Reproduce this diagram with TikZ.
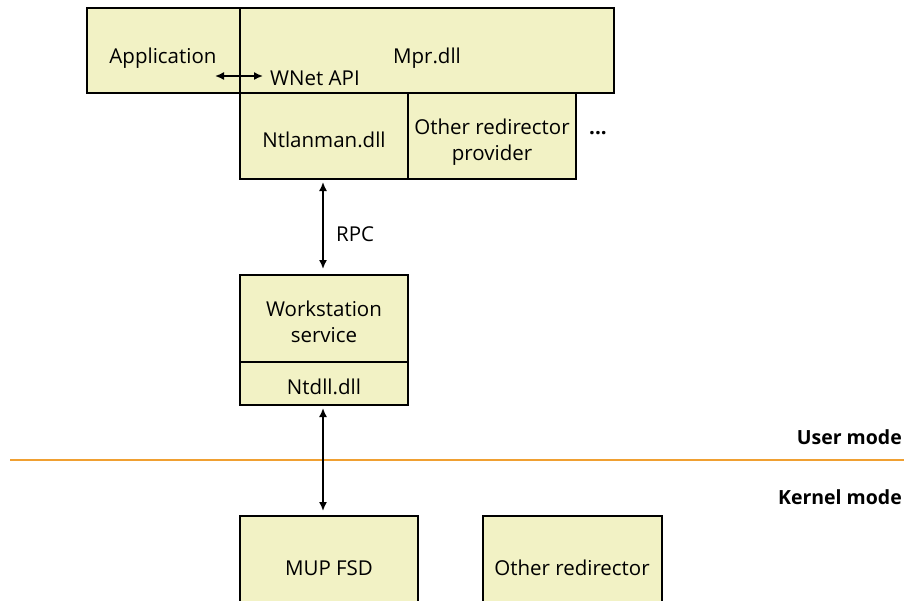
\documentclass[tikz,border=0pt]{standalone}
\usepackage{fontspec}
\setmainfont{Open Sans}
\usetikzlibrary{arrows.meta}
\definecolor{boxfill}{RGB}{242,242,197}
\definecolor{modeline}{RGB}{240,160,50}
\begin{document}
\begin{tikzpicture}[x=1pt,y=-1pt,
  blk/.style={draw=black,line width=1.8pt,fill=boxfill},
  lbl/.style={font=\fontsize{20.5}{26}\selectfont,align=center,inner sep=0pt},
  bar/.style={line width=1.6pt,{Latex[length=9pt,width=8pt]}-{Latex[length=9pt,width=8pt]}},
  modelbl/.style={anchor=east,inner sep=0pt,font=\fontsize{19.5}{24}\selectfont\bfseries}]
\useasboundingbox (0,0) rectangle (904,600);
\clip (0,0) rectangle (904,600);
% top row
\draw[blk] (87,8) rectangle (240,93);
\draw[blk] (240,8) rectangle (614,93);
\draw[blk] (240,93) rectangle (408,179);
\draw[blk] (408,93) rectangle (576,179);
\node[lbl] (app) at (163,58) {Application};
\node[lbl] (mpr) at (427,58) {Mpr.dll};
\node[lbl,anchor=west] (wnet) at (270,78) {WNet API};
\coordinate (wl) at (215,76);
\coordinate (wr) at (263,76);
\draw[bar] (wl) -- (wr);
\node[lbl] (ntl) at (324,140) {Ntlanman.dll};
\node[lbl] (odp) at (492,142) {Other redirector\\provider};
\node[lbl] (dots) at (598,133) {\textbf{...}};
% workstation
\draw[blk] (240,275) rectangle (408,362);
\draw[blk] (240,362) rectangle (408,405);
\node[lbl] (ws) at (324,322) {Workstation\\service};
\node[lbl] (ntd) at (324,387) {Ntdll.dll};
\coordinate (rpct) at (323,182);
\coordinate (rpcb) at (323,269);
\draw[bar] (rpct) -- (rpcb);
\node[lbl,anchor=west] (rpc) at (336,234) {RPC};
% mode line
\draw[modeline,line width=2.2pt] (10,460) -- (904,460);
\node[modelbl] (um) at (902,437) {User mode};
\node[modelbl] (km) at (902,497) {Kernel mode};
% kernel boxes
\draw[blk] (240,516) rectangle (418,610);
\draw[blk] (483,516) rectangle (662,610);
\node[lbl] (mup) at (329,568) {MUP FSD};
\node[lbl] (ord) at (572,568) {Other redirector};
\coordinate (kt) at (323,408);
\coordinate (kb) at (323,511);
\draw[bar] (kt) -- (kb);
\end{tikzpicture}
\end{document}
